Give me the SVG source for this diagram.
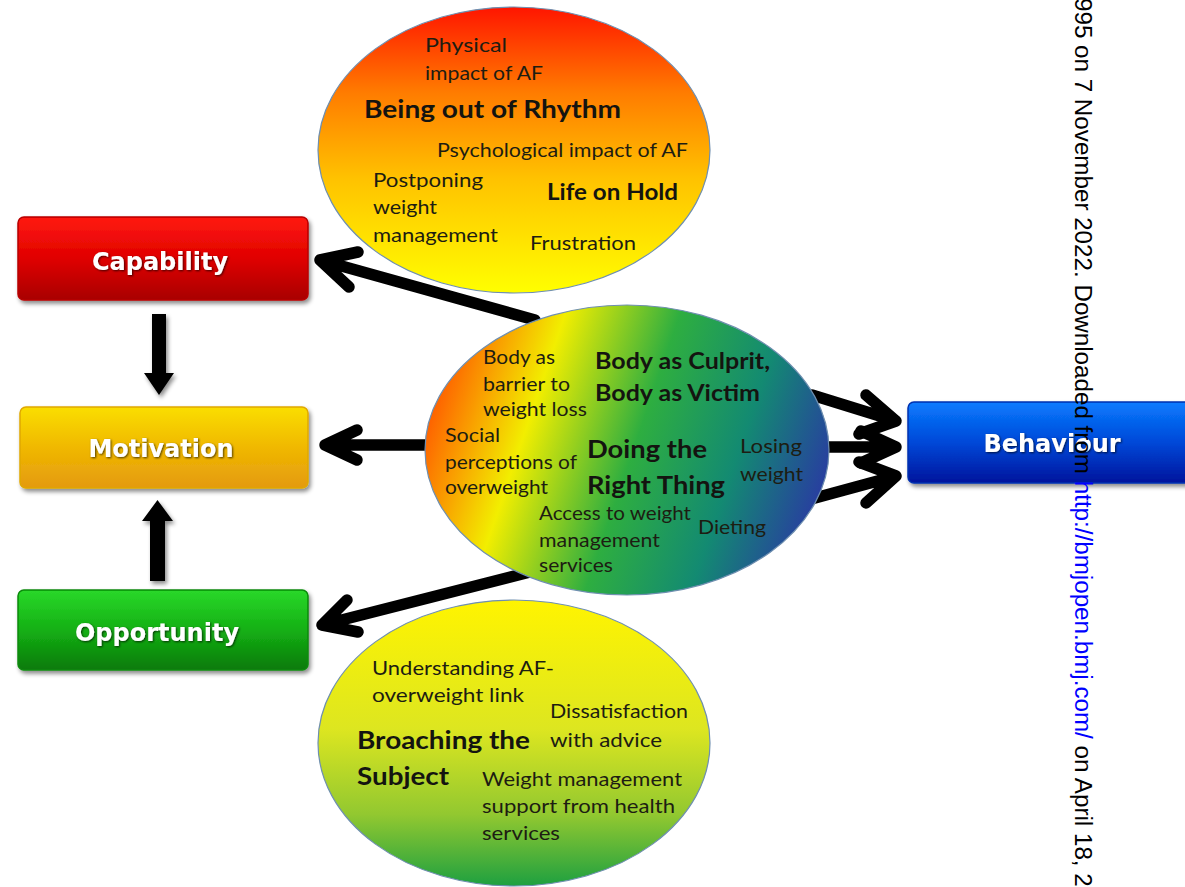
<svg xmlns="http://www.w3.org/2000/svg" width="1185" height="887" viewBox="0 0 1185 887">
<defs>
<style>
.t{font-family:Lato,"Open Sans",sans-serif;font-size:20px;fill:#1d1d12}
.b{font-family:Lato,"Open Sans",sans-serif;font-weight:bold;font-size:24px;fill:#141410}
.lbl{font-family:"DejaVu Sans",Verdana,sans-serif;font-weight:bold;font-size:24px;fill:#ffffff;text-anchor:middle}
.arr{fill:none;stroke:#000;stroke-width:11.5;stroke-linecap:round;stroke-linejoin:round}
.ell{stroke:#6f8fb0;stroke-width:1.2}
.wm{font-family:"Liberation Sans",Arial,sans-serif;font-size:24.2px;fill:#000}
</style>
<linearGradient id="gTop" x1="0" y1="0" x2="0" y2="1">
<stop offset="0" stop-color="#ff1500"/>
<stop offset="0.3" stop-color="#ff7c00"/>
<stop offset="0.6" stop-color="#ffc200"/>
<stop offset="1" stop-color="#ffff00"/>
</linearGradient>
<linearGradient id="gMid" gradientUnits="userSpaceOnUse" x1="430" y1="400" x2="825" y2="535">
<stop offset="0" stop-color="#ff5a00"/>
<stop offset="0.24" stop-color="#f2ee00"/>
<stop offset="0.5" stop-color="#2eae40"/>
<stop offset="0.74" stop-color="#138a72"/>
<stop offset="1" stop-color="#2c30a8"/>
</linearGradient>
<linearGradient id="gBot" x1="0" y1="0" x2="0" y2="1">
<stop offset="0" stop-color="#fff400"/>
<stop offset="0.45" stop-color="#dde620"/>
<stop offset="0.75" stop-color="#92c830"/>
<stop offset="1" stop-color="#1ea040"/>
</linearGradient>
<linearGradient id="gCap" x1="0" y1="0" x2="0" y2="1">
<stop offset="0" stop-color="#ff1a10"/>
<stop offset="0.5" stop-color="#e00000"/>
<stop offset="1" stop-color="#a80000"/>
</linearGradient>
<linearGradient id="gMot" x1="0" y1="0" x2="0" y2="1">
<stop offset="0" stop-color="#fade00"/>
<stop offset="0.5" stop-color="#f0b800"/>
<stop offset="1" stop-color="#e49a10"/>
</linearGradient>
<linearGradient id="gOpp" x1="0" y1="0" x2="0" y2="1">
<stop offset="0" stop-color="#2ad82a"/>
<stop offset="0.5" stop-color="#14b014"/>
<stop offset="1" stop-color="#0a7a0a"/>
</linearGradient>
<linearGradient id="gBeh" x1="0" y1="0" x2="0" y2="1">
<stop offset="0" stop-color="#0a7cff"/>
<stop offset="0.5" stop-color="#0048d8"/>
<stop offset="1" stop-color="#00149c"/>
</linearGradient>
<filter id="sh" x="-10%" y="-20%" width="130%" height="160%">
<feDropShadow dx="2" dy="3" stdDeviation="2" flood-color="#000" flood-opacity="0.45"/>
</filter>
<filter id="tsh" x="-10%" y="-30%" width="130%" height="170%">
<feDropShadow dx="1" dy="1" stdDeviation="1" flood-color="#000" flood-opacity="0.7"/>
</filter>
</defs>
<rect width="1185" height="887" fill="#ffffff"/>

<g id="connectors">
<path class="arr" d="M535,320 L320,260 M358,252 L320,260 L349,287"/>
<path class="arr" d="M430,445 L325,445 M357,430 L325,445 L357,460"/>
<path class="arr" d="M530,572 L322,625 M347,600 L322,625 L358,632"/>
<path class="arr" d="M812,395 L896,421 M866,395 L896,421 L859,434"/>
<path class="arr" d="M822,447 L896,447 M861,431 L896,447 L861,463"/>
<path class="arr" d="M815,498 L896,476 M859,462 L896,476 L866,503"/>
<g filter="url(#sh)">
<polygon points="152,314 166,314 166,373 174,373 159,395 144,373 152,373" fill="#000"/>
<polygon points="150,581 165,581 165,521 173,521 157.5,500 142,521 150,521" fill="#000"/>
</g>
</g>

<g id="capability">
<rect x="18" y="217" width="290" height="83" rx="6" fill="url(#gCap)" stroke="#b80000" stroke-width="1.5" filter="url(#sh)"/>
<text class="lbl" x="160" y="270" filter="url(#tsh)">Capability</text>
</g>
<g id="motivation">
<rect x="20" y="407" width="288" height="81" rx="6" fill="url(#gMot)" stroke="#e0a800" stroke-width="1.5" filter="url(#sh)"/>
<text class="lbl" x="161" y="457" filter="url(#tsh)">Motivation</text>
</g>
<g id="opportunity">
<rect x="18" y="590" width="290" height="80" rx="6" fill="url(#gOpp)" stroke="#0a8a0a" stroke-width="1.5" filter="url(#sh)"/>
<text class="lbl" x="157" y="641" filter="url(#tsh)">Opportunity</text>
</g>
<g id="behaviour">
<rect x="908" y="402" width="300" height="81" rx="6" fill="url(#gBeh)" stroke="#0030b0" stroke-width="1.5" filter="url(#sh)"/>
<text class="lbl" x="1052" y="452" filter="url(#tsh)">Behaviour</text>
</g>

<g id="being-out-of-rhythm">
<ellipse class="ell" cx="514" cy="150" rx="196" ry="143" fill="url(#gTop)"/>
<text class="t" x="425" y="52" textLength="82" lengthAdjust="spacingAndGlyphs">Physical</text>
<text class="t" x="425" y="80" textLength="118" lengthAdjust="spacingAndGlyphs">impact of AF</text>
<text class="b" x="364" y="118" textLength="257" lengthAdjust="spacingAndGlyphs">Being out of Rhythm</text>
<text class="t" x="437" y="157" textLength="251" lengthAdjust="spacingAndGlyphs">Psychological impact of AF</text>
<text class="t" x="373" y="187" textLength="110" lengthAdjust="spacingAndGlyphs">Postponing</text>
<text class="t" x="373" y="214" textLength="64" lengthAdjust="spacingAndGlyphs">weight</text>
<text class="t" x="373" y="242" textLength="125" lengthAdjust="spacingAndGlyphs">management</text>
<text class="b" x="547" y="200" style="font-size:23px" textLength="131" lengthAdjust="spacingAndGlyphs">Life on Hold</text>
<text class="t" x="530" y="250" textLength="106" lengthAdjust="spacingAndGlyphs">Frustration</text>
</g>

<g id="body-as-culprit">
<ellipse class="ell" cx="627" cy="450" rx="202" ry="145" fill="url(#gMid)"/>
<text class="t" x="483" y="364" textLength="72" lengthAdjust="spacingAndGlyphs">Body as</text>
<text class="t" x="483" y="391" textLength="87" lengthAdjust="spacingAndGlyphs">barrier to</text>
<text class="t" x="483" y="416" textLength="104" lengthAdjust="spacingAndGlyphs">weight loss</text>
<text class="b" x="595" y="369" style="font-size:22px" textLength="175" lengthAdjust="spacingAndGlyphs">Body as Culprit,</text>
<text class="b" x="595" y="401" style="font-size:22px" textLength="165" lengthAdjust="spacingAndGlyphs">Body as Victim</text>
<text class="t" x="445" y="442" textLength="55" lengthAdjust="spacingAndGlyphs">Social</text>
<text class="t" x="445" y="469" textLength="132" lengthAdjust="spacingAndGlyphs">perceptions of</text>
<text class="t" x="445" y="494" textLength="103" lengthAdjust="spacingAndGlyphs">overweight</text>
<text class="b" x="587" y="458" style="font-size:25px" textLength="120" lengthAdjust="spacingAndGlyphs">Doing the</text>
<text class="b" x="587" y="494" style="font-size:25px" textLength="138" lengthAdjust="spacingAndGlyphs">Right Thing</text>
<text class="t" x="740" y="453" textLength="62" lengthAdjust="spacingAndGlyphs">Losing</text>
<text class="t" x="740" y="481" textLength="63" lengthAdjust="spacingAndGlyphs">weight</text>
<text class="t" x="539" y="520" textLength="152" lengthAdjust="spacingAndGlyphs">Access to weight</text>
<text class="t" x="539" y="547" textLength="121" lengthAdjust="spacingAndGlyphs">management</text>
<text class="t" x="539" y="572" textLength="74" lengthAdjust="spacingAndGlyphs">services</text>
<text class="t" x="698" y="534" textLength="68" lengthAdjust="spacingAndGlyphs">Dieting</text>
</g>

<g id="broaching-the-subject">
<ellipse class="ell" cx="514" cy="743" rx="196" ry="143" fill="url(#gBot)"/>
<text class="t" x="372" y="675" textLength="182" lengthAdjust="spacingAndGlyphs">Understanding AF-</text>
<text class="t" x="372" y="702" textLength="152" lengthAdjust="spacingAndGlyphs">overweight link</text>
<text class="t" x="550" y="718" textLength="138" lengthAdjust="spacingAndGlyphs">Dissatisfaction</text>
<text class="t" x="550" y="747" textLength="112" lengthAdjust="spacingAndGlyphs">with advice</text>
<text class="b" x="357" y="749" style="font-size:25px" textLength="173" lengthAdjust="spacingAndGlyphs">Broaching the</text>
<text class="b" x="357" y="785" style="font-size:25px" textLength="92" lengthAdjust="spacingAndGlyphs">Subject</text>
<text class="t" x="482" y="786" textLength="200" lengthAdjust="spacingAndGlyphs">Weight management</text>
<text class="t" x="482" y="813" textLength="193" lengthAdjust="spacingAndGlyphs">support from health</text>
<text class="t" x="482" y="840" textLength="78" lengthAdjust="spacingAndGlyphs">services</text>
</g>

<text class="wm" transform="translate(1075,-2) rotate(90)">995 on 7 November 2022. Downloaded from <tspan fill="#0000ff">http://bmjopen.bmj.com/</tspan> on April 18, 2</text>
</svg>
